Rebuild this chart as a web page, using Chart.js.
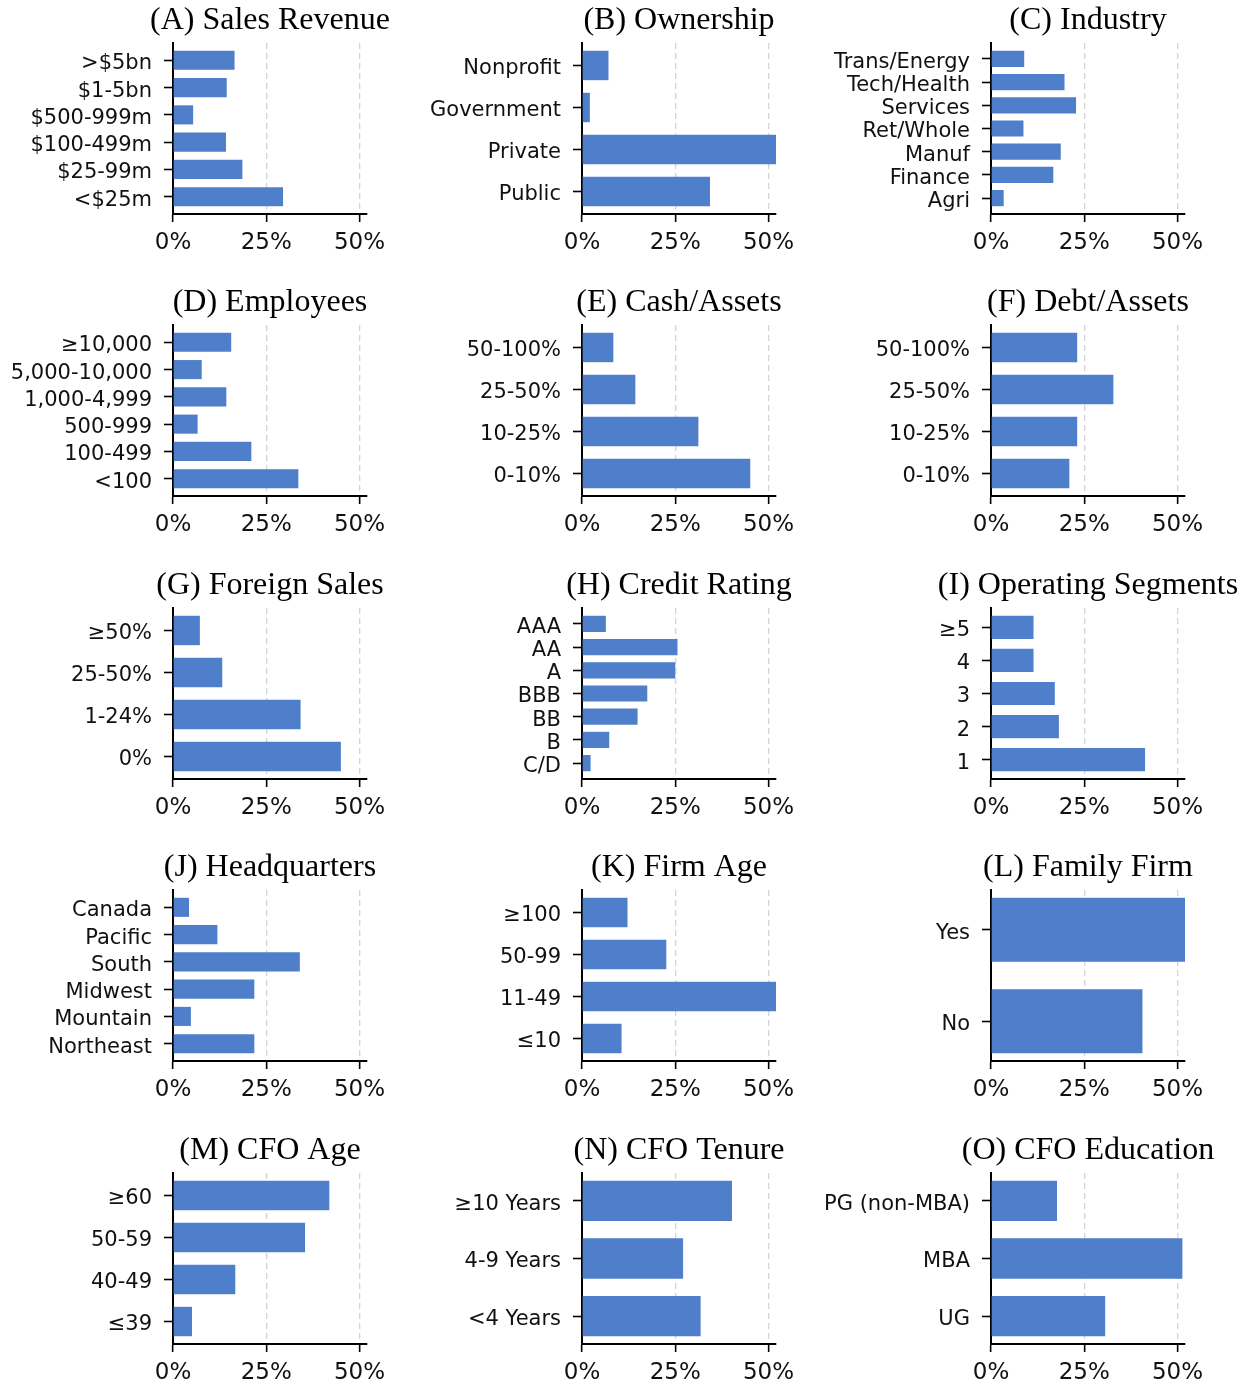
<!DOCTYPE html>
<html>
<head>
<meta charset="utf-8">
<script src="https://cdn.jsdelivr.net/npm/chart.js@4"></script>
<style>
  html, body { margin: 0; padding: 0; background: #ffffff; }
  body { width: 1250px; height: 1385px; overflow: hidden; position: relative; }
  canvas { position: absolute; }
</style>
</head>
<body>
<script>
// ---------- DATA (categories listed top-to-bottom as displayed, values in %) ----------
const titles = ['(A) Sales Revenue', '(B) Ownership', '(C) Industry',
                '(D) Employees', '(E) Cash/Assets', '(F) Debt/Assets',
                '(G) Foreign Sales', '(H) Credit Rating', '(I) Operating Segments',
                '(J) Headquarters', '(K) Firm Age', '(L) Family Firm',
                '(M) CFO Age', '(N) CFO Tenure', '(O) CFO Education'];

const salesLabels = ['>$5bn', '$1-5bn', '$500-999m', '$100-499m', '$25-99m', '<$25m'];
const salesValues = [16.5, 14.4, 5.4, 14.2, 18.6, 29.5];

const ownershipLabels = ['Nonprofit', 'Government', 'Private', 'Public'];
const ownershipValues = [7.1, 2.1, 52.0, 34.3];

const industryLabels = ['Trans/Energy', 'Tech/Health', 'Services', 'Ret/Whole', 'Manuf', 'Finance', 'Agri'];
const industryValues = [8.9, 19.7, 22.8, 8.7, 18.7, 16.7, 3.4];

const employeesLabels = ['≥10,000', '5,000-10,000', '1,000-4,999', '500-999', '100-499', '<100'];
const employeesValues = [15.6, 7.7, 14.3, 6.6, 21.0, 33.6];

const cashLabels = ['50-100%', '25-50%', '10-25%', '0-10%'];
const cashValues = [8.4, 14.3, 31.2, 45.1];

const debtLabels = ['50-100%', '25-50%', '10-25%', '0-10%'];
const debtValues = [23.1, 32.8, 23.1, 21.0];

const foreignLabels = ['≥50%', '25-50%', '1-24%', '0%'];
const foreignValues = [7.2, 13.2, 34.2, 45.0];

const creditLabels = ['AAA', 'AA', 'A', 'BBB', 'BB', 'B', 'C/D'];
const creditValues = [6.4, 25.6, 25.0, 17.5, 14.9, 7.3, 2.3];

const segmentsLabels = ['≥5', '4', '3', '2', '1'];
const segmentsValues = [11.4, 11.4, 17.1, 18.2, 41.3];

const hqLabels = ['Canada', 'Pacific', 'South', 'Midwest', 'Mountain', 'Northeast'];
const hqValues = [4.3, 11.9, 34.0, 21.8, 4.8, 21.8];

const ageLabels = ['≥100', '50-99', '11-49', '≤10'];
const ageValues = [12.2, 22.6, 52.0, 10.6];

const familyLabels = ['Yes', 'No'];
const familyValues = [52.0, 40.6];

const cfoAgeLabels = ['≥60', '50-59', '40-49', '≤39'];
const cfoAgeValues = [41.9, 35.4, 16.7, 5.1];

const tenureLabels = ['≥10 Years', '4-9 Years', '<4 Years'];
const tenureValues = [40.2, 27.1, 31.8];

const educationLabels = ['PG (non-MBA)', 'MBA', 'UG'];
const educationValues = [17.7, 51.3, 30.6];

const xTicks = [0, 25, 50];
const xMax = 52;

// ---------- LAYOUT ----------
const panelLabels = [salesLabels, ownershipLabels, industryLabels, employeesLabels, cashLabels, debtLabels,
  foreignLabels, creditLabels, segmentsLabels, hqLabels, ageLabels, familyLabels, cfoAgeLabels, tenureLabels, educationLabels];
const panelValues = [salesValues, ownershipValues, industryValues, employeesValues, cashValues, debtValues,
  foreignValues, creditValues, segmentsValues, hqValues, ageValues, familyValues, cfoAgeValues, tenureValues, educationValues];

const colLefts = [1, 410, 819];
const rowTops = [0, 282, 565, 847, 1130];
const Y_AXIS_W = 172, PLOT_W = 194, TITLE_H = 43, PLOT_H = 171, X_AXIS_H = 50;
const CANVAS_W = Y_AXIS_W + PLOT_W + Y_AXIS_W;
const CANVAS_H = TITLE_H + PLOT_H + X_AXIS_H;
const BAR_H = 0.7;
const BAR_COLOR = '#4f7fca';
const TEXT_COLOR = '#111111';
const Y_TICK_FONT = { family: 'DejaVu Sans', size: 21 };
const X_TICK_FONT = { family: 'DejaVu Sans', size: 23 };

panelLabels.forEach((labels, p) => {
  const values = panelValues[p];
  const n = labels.length;
  const canvas = document.createElement('canvas');
  canvas.width = CANVAS_W;
  canvas.height = CANVAS_H;
  canvas.style.left = colLefts[p % 3] + 'px';
  canvas.style.top = rowTops[Math.floor(p / 3)] + 'px';
  canvas.style.width = CANVAS_W + 'px';
  canvas.style.height = CANVAS_H + 'px';
  document.body.appendChild(canvas);

  const margin = 0.05 * (n - 1 + BAR_H);
  const yMin = -BAR_H / 2 - margin;
  const yMax = n - 1 + BAR_H / 2 + margin;

  new Chart(canvas, {
    type: 'bar',
    data: {
      datasets: [{
        data: values.map((v, i) => ({ x: v, y: n - 1 - i })),
        backgroundColor: BAR_COLOR,
        borderWidth: 0,
        categoryPercentage: 1,
        barPercentage: BAR_H
      }]
    },
    options: {
      indexAxis: 'y',
      responsive: false,
      animation: false,
      devicePixelRatio: 1,
      layout: { padding: 0 },
      plugins: {
        legend: { display: false },
        tooltip: { enabled: false },
        title: {
          display: true,
          text: titles[p],
          color: '#000000',
          font: { family: 'Liberation Serif', size: 32, weight: 'normal', lineHeight: 1.2 },
          padding: { top: 1, bottom: 3.6 }
        }
      },
      scales: {
        x: {
          type: 'linear',
          min: 0,
          max: xMax,
          afterFit: (axis) => { axis.height = X_AXIS_H; },
          afterBuildTicks: (axis) => { axis.ticks = xTicks.map(v => ({ value: v })); },
          border: { display: true, color: '#000000', width: 2, dash: [6, 4] },
          grid: {
            display: true,
            drawOnChartArea: true,
            drawTicks: true,
            tickLength: 8,
            tickWidth: 1.6,
            tickColor: '#000000',
            lineWidth: 1.3,
            color: (ctx) => (ctx.tick && ctx.tick.value === 0) ? 'rgba(0,0,0,0)' : '#d4d4d4'
          },
          ticks: {
            padding: 7,
            color: TEXT_COLOR,
            font: X_TICK_FONT,
            maxRotation: 0,
            autoSkip: false,
            callback: (v) => v + '%'
          }
        },
        y: {
          type: 'linear',
          position: 'left',
          min: yMin,
          max: yMax,
          offset: false,
          afterFit: (axis) => { axis.width = Y_AXIS_W; },
          afterBuildTicks: (axis) => { axis.ticks = labels.map((_, i) => ({ value: i })); },
          border: { display: true, color: '#000000', width: 2 },
          grid: {
            display: true,
            offset: false,
            drawOnChartArea: false,
            drawTicks: true,
            tickLength: 9,
            tickWidth: 1.6,
            tickColor: '#000000'
          },
          ticks: {
            padding: 12,
            labelOffset: 3.5,
            color: TEXT_COLOR,
            font: Y_TICK_FONT,
            autoSkip: false,
            callback: (v) => labels[n - 1 - Math.round(v)]
          }
        },
        ySpacer: {
          type: 'linear',
          axis: 'y',
          position: 'right',
          min: yMin,
          max: yMax,
          afterFit: (axis) => { axis.width = Y_AXIS_W; },
          border: { display: false },
          grid: { display: false },
          ticks: { display: false }
        }
      }
    }
  });
});
</script>
</body>
</html>
